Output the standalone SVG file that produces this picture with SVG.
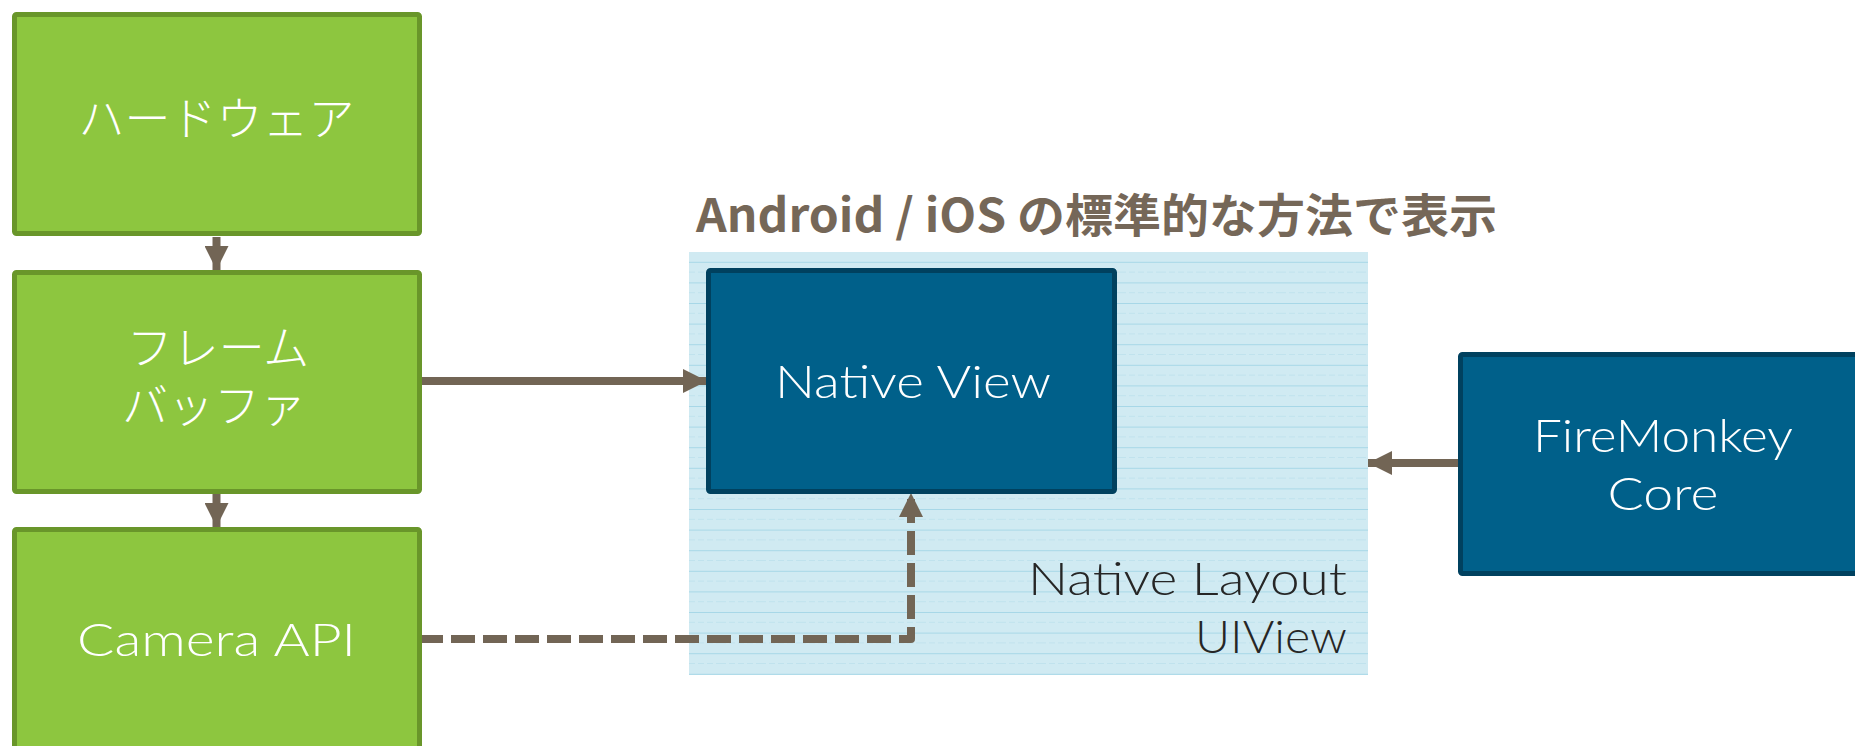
<svg xmlns="http://www.w3.org/2000/svg" width="1855" height="746" viewBox="0 0 1855 746">
  <defs>
    <pattern id="lines" x="0" y="252" width="40" height="20.6" patternUnits="userSpaceOnUse">
      <rect width="40" height="20.6" fill="#d0eaf2"/>
      <line x1="0" y1="10.3" x2="40" y2="10.3" stroke="#a7d7e7" stroke-width="1.2"/>
      <line x1="0" y1="20.6" x2="40" y2="20.6" stroke="#b0dbe9" stroke-width="1.2" stroke-dasharray="6 3"/>
    </pattern>
    <marker id="ah" viewBox="0 0 24 24" refX="24" refY="12" markerWidth="24" markerHeight="24" markerUnits="userSpaceOnUse" orient="auto">
      <path d="M0,0 L24,12 L0,24 Z" fill="#726555"/>
    </marker>
  </defs>
  <style>
    .green { fill: #8dc63f; stroke: #69962a; stroke-width: 5; }
    .blue { fill: #00608a; stroke: #00415f; stroke-width: 5; }
    .wt { fill: #ffffff; font-family: "Noto Sans CJK JP", "Noto Sans", sans-serif; font-weight: 300; font-size: 46px; text-anchor: middle; }
    .lt { fill: #ffffff; font-family: "Lato", "Liberation Sans", sans-serif; font-weight: 300; font-size: 45px; text-anchor: middle; }
    .conn { stroke: #726555; stroke-width: 8; fill: none; }
  </style>
  <rect width="1855" height="746" fill="#ffffff"/>

  <g id="layout-area">
    <rect x="689" y="252" width="679" height="423" fill="url(#lines)"/>
    <text x="1347" y="595" font-family="Lato, Liberation Sans, sans-serif" font-weight="300" font-size="45" fill="#262626" text-anchor="end" textLength="319" lengthAdjust="spacingAndGlyphs">Native Layout</text>
    <text x="1347" y="653" font-family="Lato, Liberation Sans, sans-serif" font-weight="300" font-size="45" fill="#262626" text-anchor="end" textLength="152" lengthAdjust="spacingAndGlyphs">UIView</text>
  </g>

  <g id="title">
    <text x="696" y="232" font-family="Noto Sans CJK JP, Noto Sans, sans-serif" font-weight="bold" font-size="46" fill="#756758" textLength="801" lengthAdjust="spacingAndGlyphs">Android / iOS の標準的な方法で表示</text>
  </g>

  <g id="connectors">
    <line class="conn" x1="216.5" y1="237" x2="216.5" y2="270" marker-end="url(#ah)"/>
    <line class="conn" x1="216.5" y1="494" x2="216.5" y2="527" marker-end="url(#ah)"/>
    <line class="conn" x1="422" y1="381" x2="707" y2="381" marker-end="url(#ah)"/>
    <path class="conn" d="M419,639 L911,639 L911,493" stroke-dasharray="24 8" stroke-linejoin="round" marker-end="url(#ah)"/>
    <line class="conn" x1="1458" y1="463" x2="1368" y2="463" marker-end="url(#ah)"/>
  </g>

  <g id="hardware">
    <rect class="green" x="14.5" y="14.5" width="405" height="219" rx="2"/>
    <text class="wt" x="216.5" y="135" font-size="47">ハードウェア</text>
  </g>
  <g id="framebuffer">
    <rect class="green" x="14.5" y="272.5" width="405" height="219" rx="2"/>
    <text class="wt" font-size="44"><tspan x="218" y="364">フレーム</tspan><tspan x="214" y="422">バッファ</tspan></text>
  </g>
  <g id="camera-api">
    <rect class="green" x="14.5" y="529.5" width="405" height="240" rx="2"/>
    <text class="lt" x="216.5" y="656" textLength="279" lengthAdjust="spacingAndGlyphs">Camera API</text>
  </g>
  <g id="native-view">
    <rect class="blue" x="708.5" y="270.5" width="406" height="221" rx="2"/>
    <text class="lt" x="913" y="398" textLength="276" lengthAdjust="spacingAndGlyphs">Native View</text>
  </g>
  <g id="firemonkey-core">
    <rect class="blue" x="1460.5" y="354.5" width="420" height="219" rx="2"/>
    <text class="lt" x="1663" y="452" textLength="260" lengthAdjust="spacingAndGlyphs">FireMonkey</text>
    <text class="lt" x="1663" y="510" textLength="111" lengthAdjust="spacingAndGlyphs">Core</text>
  </g>
</svg>
